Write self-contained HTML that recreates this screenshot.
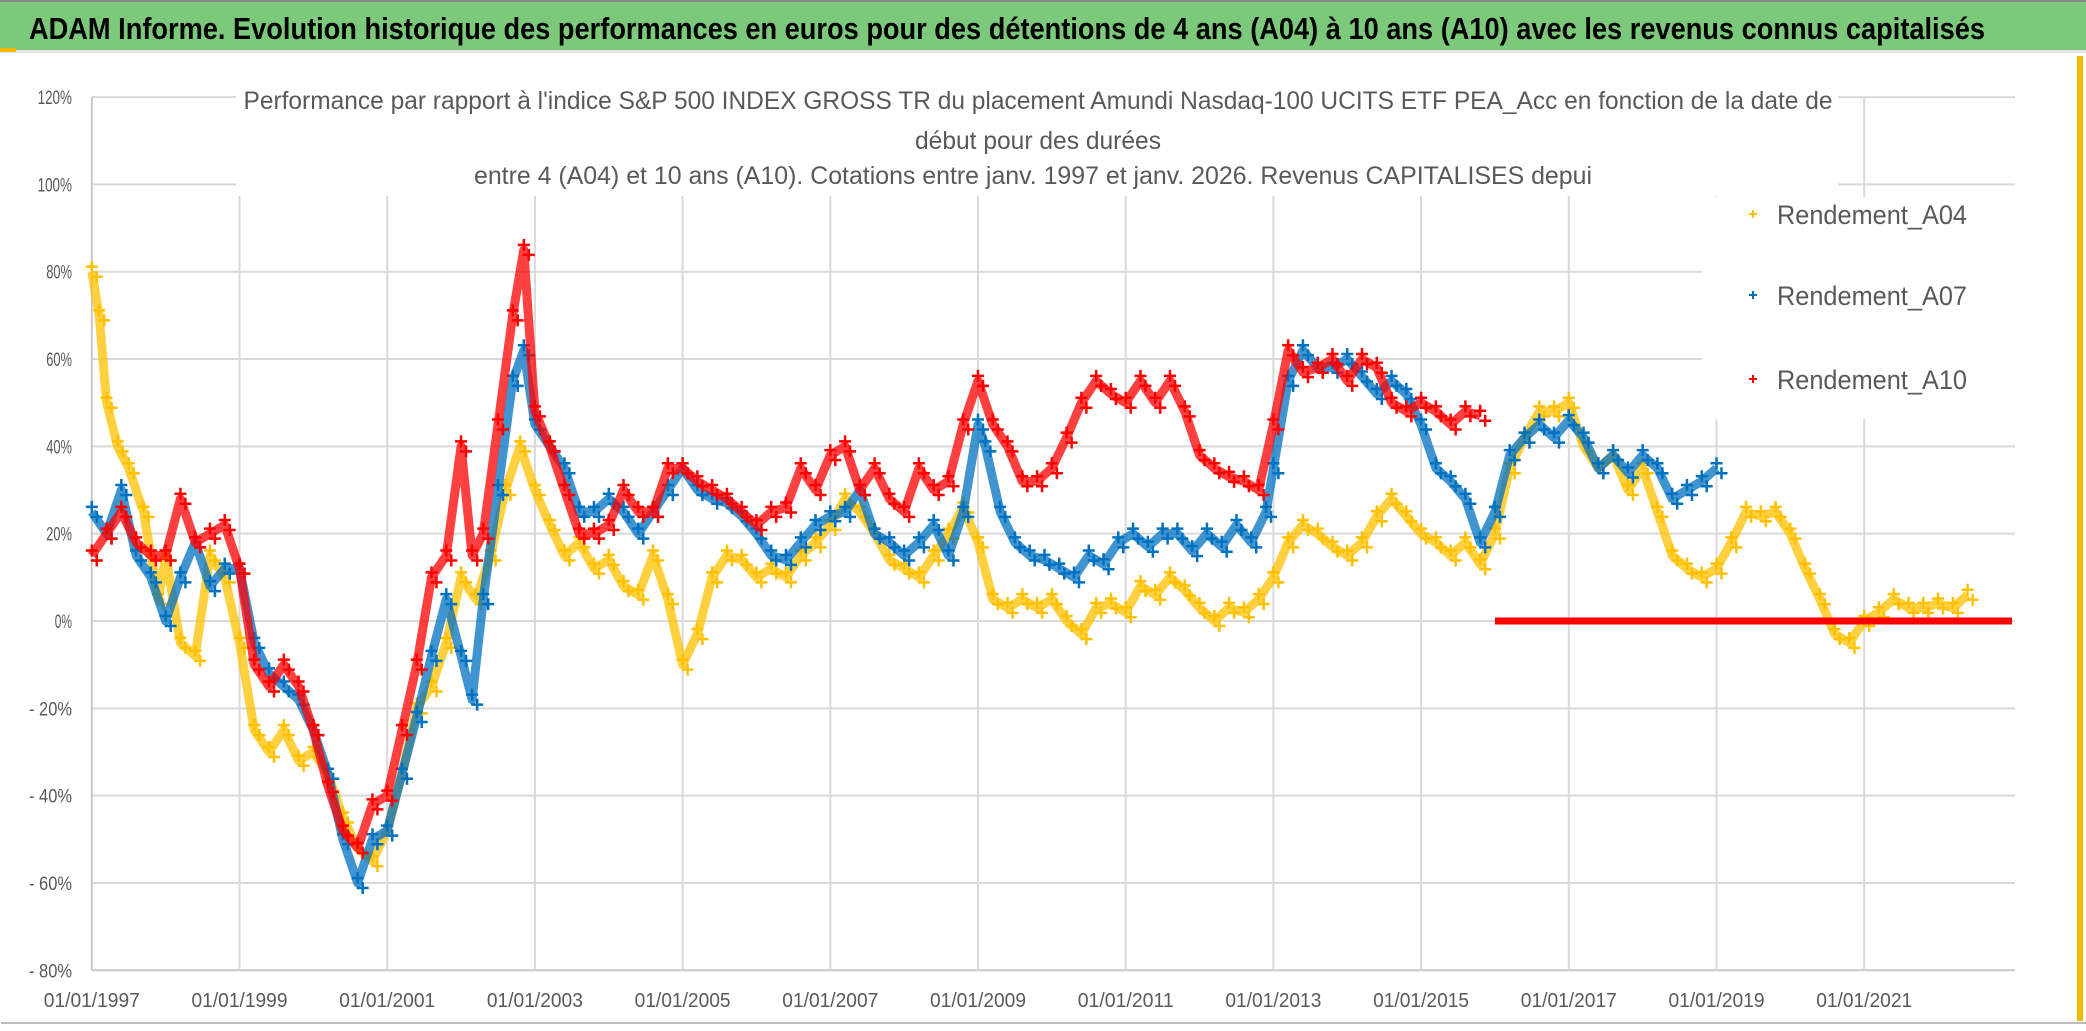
<!DOCTYPE html>
<html><head><meta charset="utf-8"><style>
html,body{margin:0;padding:0;background:#fff;}
svg{display:block;}
text{font-family:"Liberation Sans",sans-serif;}
</style></head><body>
<svg id="chart" width="2086" height="1031" viewBox="0 0 2086 1031" xmlns="http://www.w3.org/2000/svg">
<rect x="0" y="0" width="2086" height="1031" fill="#fff"/>
<rect x="0" y="0" width="2086" height="50" fill="#7dc97b"/>
<rect x="0" y="0" width="2086" height="2" fill="#8a8a8a"/>
<rect x="0" y="50" width="2086" height="3" fill="#e6e6e6"/>
<rect x="0" y="48" width="16" height="4" fill="#f5b800"/>
<text x="29" y="39" font-size="31" font-weight="bold" fill="#000" textLength="1956" lengthAdjust="spacingAndGlyphs">ADAM Informe. Evolution historique des performances en euros pour des détentions de 4 ans (A04) à 10 ans (A10) avec les revenus connus capitalisés</text>
<rect x="2077" y="56" width="6" height="965" fill="#f5b800"/>
<rect x="1" y="1022" width="2085" height="2" fill="#bdbdbd"/>
<g id="grid"></g>
<g id="marks"></g>
<rect x="236" y="80" width="1602" height="116" fill="#fff"/>
<g fill="#595959" font-size="25" text-anchor="middle">
<text x="1038" y="109" textLength="1589" lengthAdjust="spacingAndGlyphs">Performance par rapport à l'indice S&amp;P 500 INDEX GROSS TR  du placement Amundi Nasdaq-100 UCITS ETF PEA_Acc en fonction de la date de</text>
<text x="1038" y="149" textLength="246" lengthAdjust="spacingAndGlyphs">début pour des durées</text>
<text x="1033" y="184" textLength="1118" lengthAdjust="spacingAndGlyphs">entre 4 (A04) et 10 ans (A10). Cotations entre janv. 1997 et janv. 2026. Revenus CAPITALISES depui</text>
</g>
<rect x="1702" y="197" width="314" height="222" fill="#fff"/>
<g id="legend" font-size="27" fill="#595959"></g>
<g id="yticks" font-size="19" fill="#595959" text-anchor="end"></g>
<g id="xticks" font-size="20" fill="#595959" text-anchor="middle"></g>
</svg>
<script>
// ---- data ----
const yTickValues = [120,100,80,60,40,20,0,-20,-40,-60,-80];
const yTickLabels = ["120%","100%","80%","60%","40%","20%","0%","- 20%","- 40%","- 60%","- 80%"];
const xTickYears = [1997,1999,2001,2003,2005,2007,2009,2011,2013,2015,2017,2019,2021];
const xTickLabels = ["01/01/1997","01/01/1999","01/01/2001","01/01/2003","01/01/2005","01/01/2007","01/01/2009","01/01/2011","01/01/2013","01/01/2015","01/01/2017","01/01/2019","01/01/2021"];
const seriesNames = ["Rendement_A04","Rendement_A07","Rendement_A10"];

const a04Dates = [1997.0,1997.1,1997.2,1997.35,1997.5,1997.7,1997.9,1998.0,1998.2,1998.4,1998.6,1998.8,1999.0,1999.2,1999.4,1999.6,1999.8,2000.0,2000.2,2000.4,2000.6,2000.8,2001.0,2001.2,2001.4,2001.6,2001.8,2002.0,2002.2,2002.4,2002.6,2002.8,2003.0,2003.2,2003.4,2003.6,2003.8,2004.0,2004.2,2004.4,2004.6,2004.8,2005.0,2005.2,2005.4,2005.6,2005.8,2006.0,2006.2,2006.4,2006.6,2006.8,2007.0,2007.2,2007.4,2007.6,2007.8,2008.0,2008.2,2008.4,2008.6,2008.8,2009.0,2009.2,2009.4,2009.6,2009.8,2010.0,2010.2,2010.4,2010.6,2010.8,2011.0,2011.2,2011.4,2011.6,2011.8,2012.0,2012.2,2012.4,2012.6,2012.8,2013.0,2013.2,2013.4,2013.6,2013.8,2014.0,2014.2,2014.4,2014.6,2014.8,2015.0,2015.2,2015.4,2015.6,2015.8,2016.0,2016.2,2016.4,2016.6,2016.8,2017.0,2017.2,2017.4,2017.6,2017.8,2018.0,2018.2,2018.4,2018.6,2018.8,2019.0,2019.2,2019.4,2019.6,2019.8,2020.0,2020.2,2020.4,2020.6,2020.8,2021.0,2021.2,2021.4,2021.6,2021.8,2022.0,2022.2,2022.4];
const a04Values = [80,70,50,40,35,25,5,15,-5,-8,15,10,-5,-25,-30,-25,-32,-30,-35,-45,-52,-55,-48,-35,-20,-15,-5,10,5,15,30,40,30,22,15,18,12,14,8,6,15,5,-10,-3,10,15,14,10,12,10,15,18,22,28,25,20,14,12,10,15,20,26,18,5,3,5,3,5,0,-3,3,4,2,8,6,10,7,3,0,3,2,5,10,18,22,20,17,15,18,24,28,24,20,18,15,18,13,20,35,42,48,48,50,40,35,38,30,35,25,15,12,10,12,18,25,24,25,20,12,5,-3,-5,0,2,5,3,3,4,3,6];
const a04ZeroFrom = 2022.6, a04ZeroTo = 2023.0;

const a07Dates = [1997.0,1997.2,1997.4,1997.6,1997.8,1998.0,1998.2,1998.4,1998.6,1998.8,1999.0,1999.2,1999.4,1999.6,1999.8,2000.0,2000.2,2000.4,2000.6,2000.8,2001.0,2001.2,2001.4,2001.6,2001.8,2002.0,2002.15,2002.3,2002.5,2002.7,2002.85,2003.0,2003.2,2003.4,2003.6,2003.8,2004.0,2004.2,2004.4,2004.6,2004.8,2005.0,2005.2,2005.4,2005.6,2005.8,2006.0,2006.2,2006.4,2006.6,2006.8,2007.0,2007.2,2007.4,2007.6,2007.8,2008.0,2008.2,2008.4,2008.6,2008.8,2009.0,2009.1,2009.3,2009.5,2009.7,2009.9,2010.1,2010.3,2010.5,2010.7,2010.9,2011.1,2011.3,2011.5,2011.7,2011.9,2012.1,2012.3,2012.5,2012.7,2012.9,2013.0,2013.2,2013.4,2013.6,2013.8,2014.0,2014.2,2014.4,2014.6,2014.8,2015.0,2015.2,2015.4,2015.6,2015.8,2016.0,2016.2,2016.4,2016.6,2016.8,2017.0,2017.2,2017.4,2017.6,2017.8,2018.0,2018.2,2018.4,2018.6,2018.8,2019.0];
const a07Values = [25,20,30,15,10,0,10,18,8,12,12,-5,-12,-15,-18,-25,-35,-50,-60,-50,-48,-35,-22,-8,5,-8,-18,5,30,55,62,45,40,35,25,25,28,25,20,25,30,35,30,28,27,24,20,15,14,18,22,24,25,30,20,18,15,18,22,15,25,45,40,25,18,15,14,12,10,15,13,18,20,17,20,20,16,20,17,22,18,25,35,55,62,58,58,60,56,52,55,52,45,35,32,28,18,25,38,42,45,42,46,42,35,38,34,38,35,28,30,32,35];
const a07ZeroFrom = 2019.1, a07ZeroTo = 2023.0;

const a10Dates = [1997.0,1997.2,1997.4,1997.6,1997.8,1998.0,1998.2,1998.4,1998.6,1998.8,1999.0,1999.2,1999.4,1999.6,1999.8,2000.0,2000.2,2000.4,2000.6,2000.8,2001.0,2001.2,2001.4,2001.6,2001.8,2002.0,2002.15,2002.3,2002.5,2002.7,2002.85,2003.0,2003.2,2003.4,2003.6,2003.8,2004.0,2004.2,2004.4,2004.6,2004.8,2005.0,2005.2,2005.4,2005.6,2005.8,2006.0,2006.2,2006.4,2006.6,2006.8,2007.0,2007.2,2007.4,2007.6,2007.8,2008.0,2008.2,2008.4,2008.6,2008.8,2009.0,2009.2,2009.4,2009.6,2009.8,2010.0,2010.2,2010.4,2010.6,2010.8,2011.0,2011.2,2011.4,2011.6,2011.8,2012.0,2012.2,2012.4,2012.6,2012.8,2013.0,2013.2,2013.4,2013.6,2013.8,2014.0,2014.2,2014.4,2014.6,2014.8,2015.0,2015.2,2015.4,2015.6,2015.8];
const a10Values = [15,20,25,18,15,15,28,18,20,22,12,-10,-15,-10,-15,-25,-38,-48,-52,-42,-40,-25,-10,10,15,40,15,20,45,70,85,48,40,30,20,20,22,30,25,25,35,35,32,30,28,25,22,25,26,35,30,38,40,30,35,28,25,35,30,32,45,55,45,40,32,32,35,42,50,55,52,50,55,50,55,48,38,35,33,32,30,45,62,57,58,60,55,60,58,50,48,50,48,45,48,47];
const a10ZeroFrom = 2016.0, a10ZeroTo = 2023.0;

// ---- scales ----
const X0 = 91.8, PXY = 73.85, Y0 = 621, PXP = 4.366;
function xs(yr){ return X0 + (yr - 1997) * PXY; }
function ys(v){ return Y0 - v * PXP; }
const NS = "http://www.w3.org/2000/svg";
function mk(tag, attrs, parent){ const e = document.createElementNS(NS, tag); for (const k in attrs) e.setAttribute(k, attrs[k]); parent.appendChild(e); return e; }

const grid = document.getElementById('grid');
const marks = document.getElementById('marks');
const yt = document.getElementById('yticks');
const xt = document.getElementById('xticks');
const leg = document.getElementById('legend');

yTickValues.forEach((v, i) => {
  const ln = mk('line', {x1: X0, x2: 2015, y1: ys(v), y2: ys(v), stroke: v === -80 ? '#c8c8c8' : '#d9d9d9', 'stroke-width': 2}, grid);
  
  
  const t = mk('text', {x: 72, y: ys(v) + 7, textLength: yTickLabels[i].length * 8.6, lengthAdjust: 'spacingAndGlyphs'}, yt);
  t.textContent = yTickLabels[i];
  
  
});
xTickYears.forEach((yr, i) => {
  const ln = mk('line', {x1: xs(yr), x2: xs(yr), y1: ys(120), y2: ys(-80), stroke: yr === 1997 ? '#c8c8c8' : '#d9d9d9', 'stroke-width': 2}, grid);
  
  
  const t = mk('text', {x: xs(yr), y: 1007, textLength: 96, lengthAdjust: 'spacingAndGlyphs'}, xt);
  t.textContent = xTickLabels[i];
  
  
});

function cross(g, x, y, s, w, col){
  mk('path', {d: `M${x-s},${y}H${x+s}M${x},${y-s}V${y+s}`, stroke: col, 'stroke-width': w, fill: 'none'}, g);
}
function drawSeries(name, dates, values, zFrom, zTo, col){
  const g = mk('g', {}, marks);
  
  
  let pts = dates.map((d, i) => xs(d).toFixed(1) + ',' + ys(values[i]).toFixed(1)).join(' ');
  mk('polyline', {points: pts, fill: 'none', stroke: col, 'stroke-width': 9, 'stroke-opacity': 0.75, 'stroke-linejoin': 'round'}, g);
  dates.forEach((d, i) => {
    cross(g, xs(d), ys(values[i]) - 5, 6, 2.5, col);
    cross(g, xs(d) + 5, ys(values[i]) + 5, 6, 2.5, col);
  });
  const z = mk('line', {x1: xs(zFrom), x2: xs(zTo), y1: ys(0), y2: ys(0), stroke: col, 'stroke-width': 7}, g);
  
  
}
drawSeries('series-a04', a04Dates, a04Values, a04ZeroFrom, a04ZeroTo, '#FFC000');
drawSeries('series-a07', a07Dates, a07Values, a07ZeroFrom, a07ZeroTo, '#0070C0');
drawSeries('series-a10', a10Dates, a10Values, a10ZeroFrom, a10ZeroTo, '#FF0000');

const legCols = ['#FFC000','#0070C0','#FF0000'];
const legY = [214, 295, 379];
seriesNames.forEach((n, i) => {
  const g = mk('g', {}, leg);
  
  
  cross(g, 1753, legY[i], 4, 2, legCols[i]);
  const t = mk('text', {x: 1777, y: legY[i] + 10, textLength: 190, lengthAdjust: 'spacingAndGlyphs'}, g);
  t.textContent = n;
});
</script>
</body></html>
